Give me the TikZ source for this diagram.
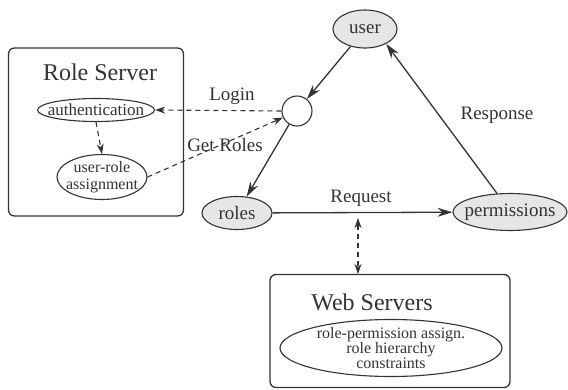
\documentclass[tikz,border=0pt]{standalone}
\usepackage{fontspec}
\setmainfont{Liberation Serif}
\usetikzlibrary{shapes.geometric,arrows.meta}
\definecolor{ink}{HTML}{333333}
\definecolor{fillg}{HTML}{E6E6E6}
\tikzset{
  ell/.style={ellipse, draw=ink, line width=1.1pt, inner sep=0pt},
  gell/.style={ell, fill=fillg},
  txt/.style={inner sep=0pt, text=ink, align=center, font=\fontsize{17}{17}\selectfont},
  btxt/.style={txt, font=\fontsize{19}{19}\selectfont},
  box/.style={draw=ink, line width=1.3pt, rounded corners=6pt},
  arr/.style={draw=ink, line width=1.3pt, -{Stealth[length=15pt,width=9pt,inset=5pt]}},
  darr/.style={draw=ink, line width=1.1pt, dashed, dash pattern=on 5pt off 4pt, -{Stealth[length=10pt,width=7pt,inset=3pt]}},
  lbl/.style={font=\fontsize{19}{19}\selectfont, text=ink},
  ttl/.style={font=\fontsize{24}{24}\selectfont, text=ink}
}
\begin{document}
\begin{tikzpicture}[x=1pt,y=-1pt]
\useasboundingbox (0,0) rectangle (568,389);
% boxes
\node[box, minimum width=175pt, minimum height=168pt] (rs) at (96,132) {};
\node[ttl] (rst) at (100,72) {Role Server};
\node[box, minimum width=240pt, minimum height=113pt] (ws) at (390,331) {};
\node[ttl] (wst) at (372,302) {Web Servers};
% ellipses
\node[ell, minimum width=117pt, minimum height=23pt] (auth) at (96,110) {};
\node[txt] (autht) at (auth) {authentication};
\node[ell, minimum width=90pt, minimum height=45pt] (ura) at (102,177) {};
\node[txt, font=\fontsize{16}{17}\selectfont] (urat) at (ura) {user-role\\assignment};
\node[gell, minimum width=64pt, minimum height=38pt] (user) at (365,29) {};
\node[btxt] (usert) at (user) {user};
\node[circle, draw=ink, line width=1.1pt, fill=white, minimum size=30pt, inner sep=0pt] (c) at (297,111) {};
\node[gell, minimum width=70pt, minimum height=33pt] (roles) at (237,213) {};
\node[btxt] (rolest) at (roles) {roles};
\node[gell, minimum width=114pt, minimum height=37pt] (perm) at (510,212) {};
\node[btxt] (permt) at (perm) {permissions};
\node[ell, minimum width=222pt, minimum height=57pt] (rp) at (391,348) {};
\node[txt, font=\fontsize{16}{15}\selectfont] (rpt) at (rp) {role-permission assign.\\role hierarchy\\constraints};
% connectors
\draw[arr] (user) -- (c);
\draw[arr] (c) -- (roles);
\draw[arr] (roles) -- (perm);
\node[lbl] (req) at (361,198) {Request};
\draw[arr] (perm.125) -- (user.-35);
\node[lbl] (resp) at (497,115) {Response};
\draw[darr] (c.west) -- (auth.east);
\node[lbl] (login) at (232,96) {Login};
\draw[darr] (auth.south) -- (ura.north);
\draw[darr] (ura.east) -- (c.205);
\node[lbl] (gr) at (225,145) {Get Roles};
\coordinate (rq) at (358,218);
\coordinate (wq) at (358,274);
\draw[darr, {Stealth[length=10pt,width=7pt,inset=3pt]}-{Stealth[length=10pt,width=7pt,inset=3pt]}] (rq) -- (wq);
\end{tikzpicture}
\end{document}
